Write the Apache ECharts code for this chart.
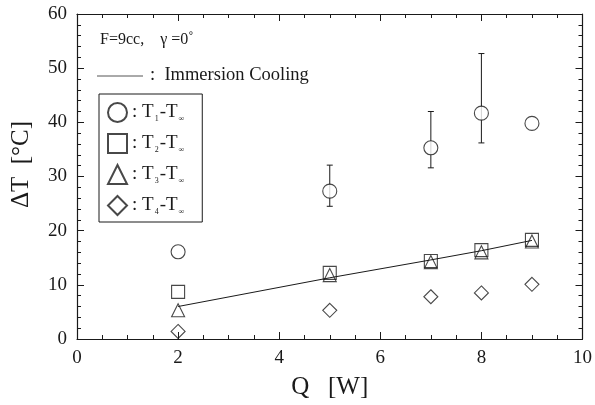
<!DOCTYPE html>
<html>
<head>
<meta charset="utf-8">
<script src="https://cdn.jsdelivr.net/npm/echarts@6/dist/echarts.min.js"></script>
<style>
  html, body { margin: 0; padding: 0; background: #fff; }
  #chart { width: 595px; height: 405px; }
</style>
</head>
<body>
<div id="chart"></div>
<script>
// Q [W] values where data was taken
const qValues = [2, 5, 7, 8, 9];

// Temperature differences (deg C)
const t1Values = [16.1, 27.3, 35.3, 41.7, 39.8];
const t2Values = [8.7, 12.2, 14.4, 16.4, 18.3];
const t3Values = [5.3, 11.8, 14.2, 16.0, 18.0];
const t4Values = [1.4, 5.3, 7.8, 8.5, 10.1];

// error bars on T1 : [Q, low, high]
const t1ErrQ = [5, 7, 8];
const t1ErrLow = [24.5, 31.6, 36.2];
const t1ErrHigh = [32.1, 42.0, 52.7];

// Immersion cooling reference line
const immersionQ = [2, 5, 7, 8, 9];
const immersionVals = [6.0, 11.3, 14.6, 16.3, 18.2];

const xTicks = [0, 2, 4, 6, 8, 10];
const yTicks = [0, 10, 20, 30, 40, 50, 60];

const serif = '"Liberation Serif", "DejaVu Serif", serif';
const ink = '#1a1a1a';

const pair = (xs, ys) => xs.map((x, i) => [x, ys[i]]);

const markerStyle = { color: 'rgba(255,255,255,0)', borderColor: ink, borderWidth: 1.1 };

const rich = {
  a: { fontFamily: serif, fontSize: 19, color: ink },
  s: { fontFamily: serif, fontSize: 8, color: ink, padding: [12, 1, 0, 1] }
};
const subs = { 'T1': '1', 'T2': '2', 'T3': '3', 'T4': '4' };

const chart = echarts.init(document.getElementById('chart'));

function axisCommon(pos, showLabel) {
  return {
    type: 'value',
    position: pos,
    axisLine: { show: true, onZero: false, lineStyle: { color: ink, width: 1.2 } },
    axisTick: { show: true, inside: true, length: 7, lineStyle: { color: ink, width: 1 } },
    minorTick: { show: true, length: 4, lineStyle: { color: ink, width: 1 } },
    splitLine: { show: false },
    axisLabel: { show: showLabel, fontFamily: serif, fontSize: 19, color: ink, margin: 10 }
  };
}

chart.setOption({
  animation: false,
  backgroundColor: '#fff',
  grid: { left: 77, right: 12, top: 14, bottom: 65 },
  xAxis: [
    Object.assign(axisCommon('bottom', true), {
      min: xTicks[0], max: xTicks[xTicks.length - 1], interval: 2,
      minorTick: { show: true, splitNumber: 4, length: 4, lineStyle: { color: ink } },
      name: 'Q   [W]', nameLocation: 'middle', nameGap: 36,
      nameTextStyle: { fontFamily: serif, fontSize: 25, color: ink }
    }),
    Object.assign(axisCommon('top', false), {
      min: xTicks[0], max: xTicks[xTicks.length - 1], interval: 2,
      minorTick: { show: true, splitNumber: 4, length: 4, lineStyle: { color: ink } }
    })
  ],
  yAxis: [
    Object.assign(axisCommon('left', true), {
      min: yTicks[0], max: yTicks[yTicks.length - 1], interval: 10,
      minorTick: { show: true, splitNumber: 5, length: 4, lineStyle: { color: ink } },
      name: 'ΔT  [°C]', nameLocation: 'middle', nameGap: 43,
      nameTextStyle: { fontFamily: serif, fontSize: 25, color: ink, padding: [0, 0, 0, 24] }
    }),
    Object.assign(axisCommon('right', false), {
      min: yTicks[0], max: yTicks[yTicks.length - 1], interval: 10,
      minorTick: { show: true, splitNumber: 5, length: 4, lineStyle: { color: ink } }
    })
  ],
  legend: {
    orient: 'vertical',
    left: 99, top: 94,
    padding: [8, 18, 6, 8],
    itemGap: 10,
    itemWidth: 19, itemHeight: 19,
    borderColor: ink, borderWidth: 1,
    data: ['T1', 'T2', 'T3', 'T4'],
    formatter: n => '{a|: T}{s|' + subs[n] + '}{a|-T}{s|∞}',
    textStyle: { rich: rich }
  },
  graphic: [
    { type: 'text', left: 100, top: 32,
      style: { text: 'F=9cc,    γ =0˚', font: '16px ' + serif, fill: ink } },
    { type: 'line', shape: { x1: 97, y1: 76, x2: 143, y2: 76 },
      style: { stroke: '#555', lineWidth: 1 } },
    { type: 'text', left: 150, top: 66,
      style: { text: ':  Immersion Cooling', font: '18.5px ' + serif, fill: ink } }
  ],
  series: [
    {
      name: 'Immersion Cooling', type: 'line',
      data: pair(immersionQ, immersionVals),
      symbol: 'none', lineStyle: { color: ink, width: 1 }, z: 1
    },
    {
      name: 'T1 err', type: 'custom',
      data: t1ErrQ.map((q, i) => [q, t1ErrLow[i], t1ErrHigh[i]]),
      renderItem: (params, api) => {
        const lo = api.coord([api.value(0), api.value(1)]);
        const hi = api.coord([api.value(0), api.value(2)]);
        const r = 3;
        const st = { stroke: ink, lineWidth: 1 };
        return { type: 'group', children: [
          { type: 'line', shape: { x1: lo[0], y1: lo[1], x2: hi[0], y2: hi[1] }, style: st },
          { type: 'line', shape: { x1: lo[0] - r, y1: lo[1], x2: lo[0] + r, y2: lo[1] }, style: st },
          { type: 'line', shape: { x1: hi[0] - r, y1: hi[1], x2: hi[0] + r, y2: hi[1] }, style: st }
        ]};
      },
      z: 2
    },
    { name: 'T1', type: 'scatter', symbol: 'circle', symbolSize: 14,
      data: pair(qValues, t1Values), itemStyle: { color: '#fff', borderColor: ink, borderWidth: 1.1 }, z: 3 },
    { name: 'T2', type: 'scatter', symbol: 'rect', symbolSize: 13,
      data: pair(qValues, t2Values), itemStyle: markerStyle, z: 3 },
    { name: 'T3', type: 'scatter', symbol: 'triangle', symbolSize: 13,
      data: pair(qValues, t3Values), itemStyle: markerStyle, z: 4 },
    { name: 'T4', type: 'scatter', symbol: 'diamond', symbolSize: [14, 14],
      data: pair(qValues, t4Values), itemStyle: markerStyle, z: 3 }
  ]
});
</script>
</body>
</html>
